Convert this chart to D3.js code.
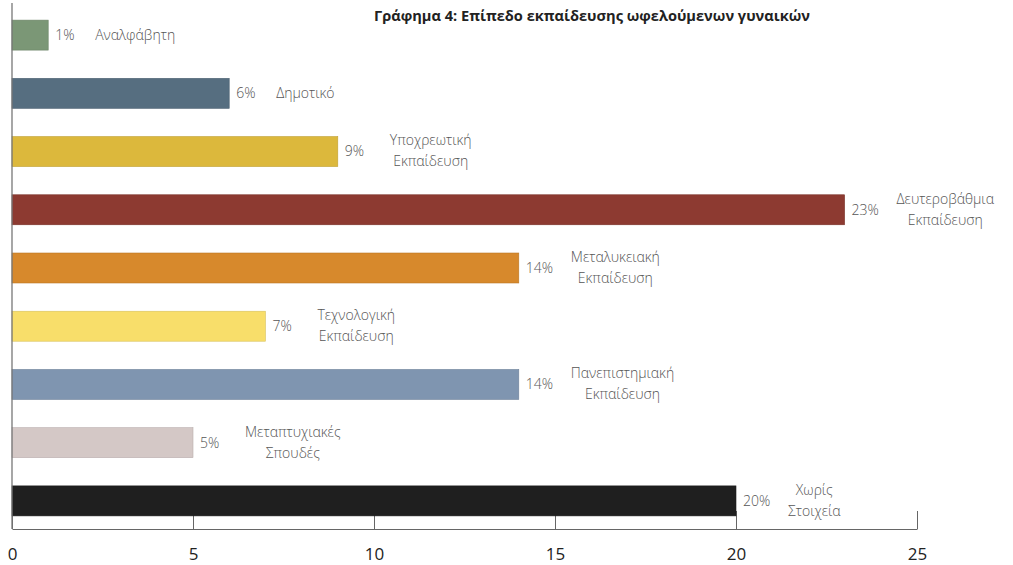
<!DOCTYPE html>
<html>
<head>
<meta charset="utf-8">
<script src="https://cdn.jsdelivr.net/npm/d3@7"></script>
<style>
  body { margin: 0; background: #fff; }
  svg { display: block; }
</style>
</head>
<body>
<div id="chart"></div>
<script>
// education level of women beneficiaries, share in percent
const categories = [
  ['Αναλφάβητη'],
  ['Δημοτικό'],
  ['Υποχρεωτική', 'Εκπαίδευση'],
  ['Δευτεροβάθμια', 'Εκπαίδευση'],
  ['Μεταλυκειακή', 'Εκπαίδευση'],
  ['Τεχνολογική', 'Εκπαίδευση'],
  ['Πανεπιστημιακή', 'Εκπαίδευση'],
  ['Μεταπτυχιακές', 'Σπουδές'],
  ['Χωρίς', 'Στοιχεία']
];
const values = [1, 6, 9, 23, 14, 7, 14, 5, 20];
const barColors = ['#7b9776', '#566e80', '#dcb83c', '#8d3a31', '#d7892c', '#f8de6a', '#7f95b0', '#d4c8c6', '#1f1f1f'];
const xTicks = [0, 5, 10, 15, 20, 25];
const title = 'Γράφημα 4: Επίπεδο εκπαίδευσης ωφελούμενων γυναικών';

const width = 1013, height = 565;
const font = '"Open Sans", "Noto Sans", sans-serif';
const axisY = 529;

const svg = d3.select('#chart')
  .append('svg')
  .attr('width', width)
  .attr('height', height);

const x = d3.scaleLinear().domain([0, 25]).range([12, 917]);
const y = d3.scaleBand()
  .domain(d3.range(values.length))
  .range([6, 530])
  .paddingInner(0.485)
  .paddingOuter(0.2425);

// title
svg.append('text')
  .attr('x', 592)
  .attr('y', 21)
  .attr('text-anchor', 'middle')
  .attr('font-family', font)
  .attr('font-weight', 'bold')
  .attr('font-size', 14.6)
  .attr('fill', '#222')
  .text(title);

// x axis with inward ticks (drawn under the bars)
const xAxis = svg.append('g')
  .attr('transform', 'translate(0,' + axisY + ')')
  .call(d3.axisBottom(x).tickValues(xTicks).tickSizeInner(-18).tickSizeOuter(0));

xAxis.select('.domain').attr('stroke', '#666').attr('stroke-width', 1.2);
xAxis.selectAll('.tick line').attr('stroke', '#666');
xAxis.selectAll('.tick text')
  .attr('y', 31)
  .attr('dy', 0)
  .attr('font-family', font)
  .attr('font-size', 17)
  .attr('fill', '#222');

// bars
svg.append('g')
  .selectAll('rect')
  .data(values)
  .join('rect')
  .attr('x', x(0))
  .attr('y', (d, i) => y(i))
  .attr('width', d => x(d) - x(0))
  .attr('height', y.bandwidth())
  .attr('fill', (d, i) => barColors[i])
  .attr('stroke', (d, i) => d3.color(barColors[i]).darker(0.4))
  .attr('stroke-width', 0.6);

// labels: percent then category name
const labels = svg.append('g')
  .selectAll('g')
  .data(values)
  .join('g')
  .attr('transform', (d, i) => 'translate(' + x(d) + ',' + (y(i) + y.bandwidth() / 2) + ')');

labels.append('text')
  .attr('x', 7)
  .attr('dy', '0.35em')
  .attr('font-family', font)
  .attr('font-weight', 300)
  .attr('font-size', 14)
  .attr('fill', '#555')
  .text(d => d + '%');

labels.each(function(d, i) {
  const lines = categories[i];
  const g = d3.select(this);
  if (lines.length === 1) {
    g.append('text')
      .attr('x', 47)
      .attr('dy', '0.35em')
      .attr('font-family', font)
      .attr('font-weight', 300)
      .attr('font-size', 14)
      .attr('fill', '#555')
      .text(lines[0]);
    return;
  }
  const t = g.append('text')
    .attr('font-family', font)
    .attr('font-weight', 300)
    .attr('font-size', 14)
    .attr('fill', '#555')
    .attr('text-anchor', 'middle');
  t.selectAll('tspan')
    .data(lines)
    .join('tspan')
    .attr('x', 0)
    .attr('y', (l, k) => (k === 0 ? -11 : 10))
    .attr('dy', '0.35em')
    .text(l => l);
  // centre the block on its widest line
  let maxW = 0;
  t.selectAll('tspan').each(function() { maxW = Math.max(maxW, this.getComputedTextLength()); });
  t.selectAll('tspan').attr('x', 52 + maxW / 2);
});

// vertical axis line
svg.append('line')
  .attr('x1', x(0)).attr('x2', x(0))
  .attr('y1', 3).attr('y2', axisY)
  .attr('stroke', '#777')
  .attr('stroke-width', 1.3);
</script>
</body>
</html>
